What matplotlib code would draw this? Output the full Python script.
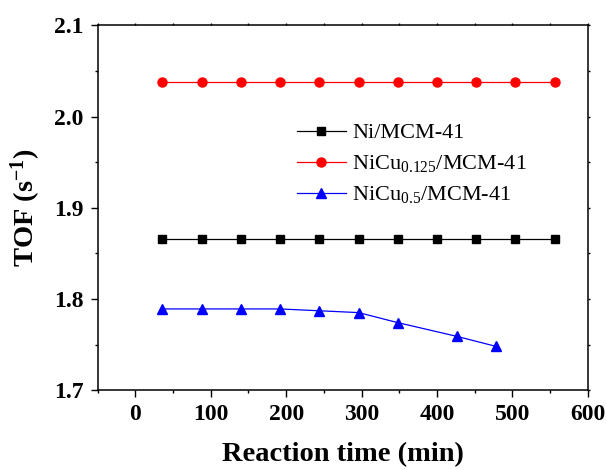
import numpy as np
import matplotlib
matplotlib.use('Agg')
import matplotlib.pyplot as plt
from matplotlib.ticker import MultipleLocator

plt.rcParams['font.family'] = 'Liberation Serif'
plt.rcParams['mathtext.fontset'] = 'custom'
plt.rcParams['mathtext.rm'] = 'Liberation Serif'
plt.rcParams['mathtext.it'] = 'Liberation Serif:italic'
plt.rcParams['mathtext.bf'] = 'Liberation Serif:bold'

# reaction time (min) and TOF (s^-1) for each catalyst
t_ni = [36, 88, 140, 192, 244, 296, 348, 400, 452, 504, 556]
tof_ni = [1.866] * 11
t_cu0125 = [36, 88, 140, 192, 244, 296, 348, 400, 452, 504, 556]
tof_cu0125 = [2.038] * 11
t_cu05 = [36, 88, 140, 192, 244, 296, 348, 426, 478]
tof_cu05 = [1.789, 1.789, 1.789, 1.789, 1.787, 1.785, 1.774, 1.759, 1.748]

labels = ['Ni/MCM-41',
          r'NiCu$\mathregular{_{0.125}}$/MCM-41',
          r'NiCu$\mathregular{_{0.5}}$/MCM-41']

fig = plt.figure(figsize=(6.06, 4.70), dpi=100)
ax = fig.add_axes([0.161, 0.170, 0.809, 0.776])

ax.plot(t_ni, tof_ni, '-s', color='black', lw=0.9, ms=6, label=labels[0])
ax.plot(t_cu0125, tof_cu0125, '-o', color='red', lw=0.9, ms=6.5, label=labels[1])
ax.plot(t_cu05, tof_cu05, '-^', color='blue', lw=0.9, ms=7, label=labels[2])

ax.set_xlim(-50, 600)
ax.set_ylim(1.7, 2.1)
ax.xaxis.set_major_locator(MultipleLocator(100))
ax.xaxis.set_minor_locator(MultipleLocator(50))
ax.yaxis.set_major_locator(MultipleLocator(0.1))
ax.yaxis.set_minor_locator(MultipleLocator(0.05))
ax.tick_params(which='major', direction='out', length=5, width=1, labelsize=17, pad=5)
ax.tick_params(which='minor', direction='out', length=2.5, width=1)
for t in ax.get_xticklabels() + ax.get_yticklabels():
    t.set_fontweight('bold')
for s in ax.spines.values():
    s.set_linewidth(1.1)
# short marks on the top and right edges
ax.tick_params(which='both', top=True, right=True, labeltop=False, labelright=False)
for tk in ax.xaxis.get_major_ticks() + ax.xaxis.get_minor_ticks():
    tk.tick2line.set_markersize(1.5)
for tk in ax.yaxis.get_major_ticks() + ax.yaxis.get_minor_ticks():
    tk.tick2line.set_markersize(1.5)

ax.set_xlabel('Reaction time (min)', fontsize=20.5, fontweight='bold', labelpad=12)
ax.set_ylabel(r'TOF (s$\mathbf{^{-1}}$)', fontsize=20.5, fontweight='bold', labelpad=8)

ax.legend(loc='upper left', bbox_to_anchor=(0.388, 0.757), frameon=False,
          fontsize=16, handlelength=2.2, handletextpad=0.3, labelspacing=0.45,
          borderaxespad=0)

fig.savefig('out.png', dpi=100)
